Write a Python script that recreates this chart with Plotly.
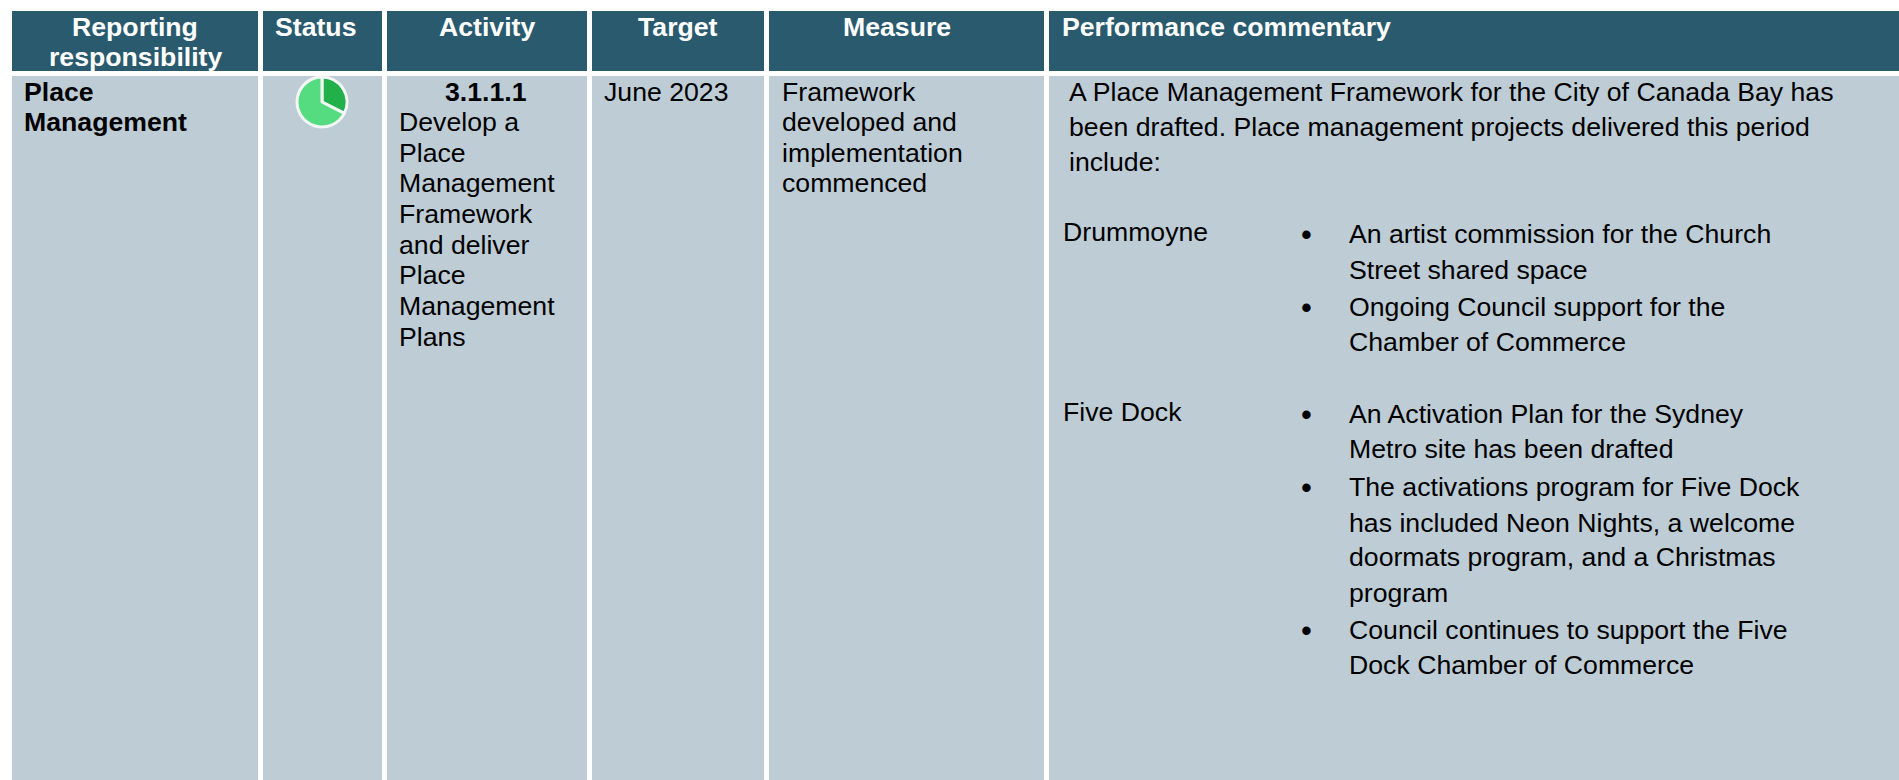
import plotly.graph_objects as go

FONT = "Liberation Sans"
HEADER_FILL = "#295A6E"
BODY_FILL = "#BECDD5"
STATUS_COLORS = ["#22B04B", "#55DC80"]

headers = ["Reporting<br>responsibility", "Status", "Activity", "Target", "Measure"]
header_last = "Performance commentary"
responsibility = ["Place", "Management"]
activity_id = "3.1.1.1"
activity_lines = ["Develop a", "Place", "Management", "Framework", "and deliver", "Place", "Management", "Plans"]
target = "June 2023"
measure_lines = ["Framework", "developed and", "implementation", "commenced"]
intro_lines = ["A Place Management Framework for the City of Canada Bay has",
               "been drafted. Place management projects delivered this period",
               "include:"]
place_names = ["Drummoyne", "Five Dock"]
drummoyne_lines = ["An artist commission for the Church", "Street shared space",
                   "Ongoing Council support for the", "Chamber of Commerce"]
fivedock_lines = ["An Activation Plan for the Sydney", "Metro site has been drafted",
                  "The activations program for Five Dock", "has included Neon Nights, a welcome",
                  "doormats program, and a Christmas", "program",
                  "Council continues to support the Five", "Dock Chamber of Commerce"]
status_values = [32.5, 67.5]

# layout (pixels)
W, H = 1899, 780
col_left = [12, 263, 387, 592, 769, 1049]
col_right = [258, 382, 587, 764, 1044, 1899]
head_top, head_bottom, body_top = 11, 71, 76
size = 26.67
head_size = 26.67

shapes, notes = [], []
for l, r in zip(col_left, col_right):
    shapes.append(dict(type="rect", x0=l, x1=r, y0=head_top, y1=head_bottom, fillcolor=HEADER_FILL, line_width=0, layer="below"))
    shapes.append(dict(type="rect", x0=l, x1=r, y0=body_top, y1=H, fillcolor=BODY_FILL, line_width=0, layer="below"))

def put(text, x, y, anchor="left", bold=False, color="#000000", fs=size):
    notes.append(dict(text=f"<b>{text}</b>" if bold else text, x=x, y=y, xref="x", yref="y",
                      xanchor=anchor, yanchor="middle", showarrow=False, align="center",
                      borderpad=0, borderwidth=0,
                      font=dict(family=FONT, size=fs, color=color)))

# header
put("Reporting", 135, 27, "center", True, "#FFFFFF", head_size)
put("responsibility", 135, 57, "center", True, "#FFFFFF", head_size)
for text, x in zip(headers[1:], [315, 487, 678, 897]):
    put(text, x, 27, "center", True, "#FFFFFF", head_size)
put(header_last, 1062, 27, "left", True, "#FFFFFF", head_size)

# body
for t, y in zip(responsibility, [92, 122]):
    put(t, 24, y, bold=True)
put(activity_id, 486, 92, "center", True)
for t, y in zip(activity_lines, [122, 153, 183, 214, 245, 275, 306, 337]):
    put(t, 399, y)
put(target, 604, 92)
for t, y in zip(measure_lines, [92, 122, 153, 183]):
    put(t, 782, y)
for t, y in zip(intro_lines, [92, 127, 162]):
    put(t, 1069, y)
for t, y in zip(place_names, [232, 412]):
    put(t, 1063, y)
for t, y in zip(drummoyne_lines, [234, 270, 307, 342]):
    put(t, 1349, y)
for t, y in zip(fivedock_lines, [414, 449, 487, 523, 557, 593, 630, 665]):
    put(t, 1349, y)
for y in [234, 307, 414, 487, 630]:
    put("•", 1306, y, "center", fs=31)

fig = go.Figure()
fig.add_trace(go.Pie(values=status_values, marker=dict(colors=STATUS_COLORS, line=dict(color="#F2F6F4", width=3)),
                     sort=False, direction="clockwise", rotation=0, textinfo="none", hoverinfo="skip", showlegend=False,
                     domain=dict(x=[297 / W, 347 / W], y=[1 - 127 / H, 1 - 77 / H])))
fig.update_layout(width=W, height=H, margin=dict(l=0, r=0, t=0, b=0), autosize=False,
                  paper_bgcolor="#FFFFFF", plot_bgcolor="#FFFFFF", showlegend=False,
                  shapes=shapes, annotations=notes,
                  xaxis=dict(range=[0, W], visible=False, fixedrange=True),
                  yaxis=dict(range=[H, 0], visible=False, fixedrange=True))
# a hidden cartesian trace keeps the pixel axes alive beside the pie
fig.add_trace(go.Scatter(x=[0, W], y=[0, H], mode="markers", marker=dict(opacity=0), hoverinfo="skip", showlegend=False))
fig.write_html("out.html", config=dict(displayModeBar=False),
               post_script="document.body.style.margin='0';document.body.style.overflow='hidden';")
